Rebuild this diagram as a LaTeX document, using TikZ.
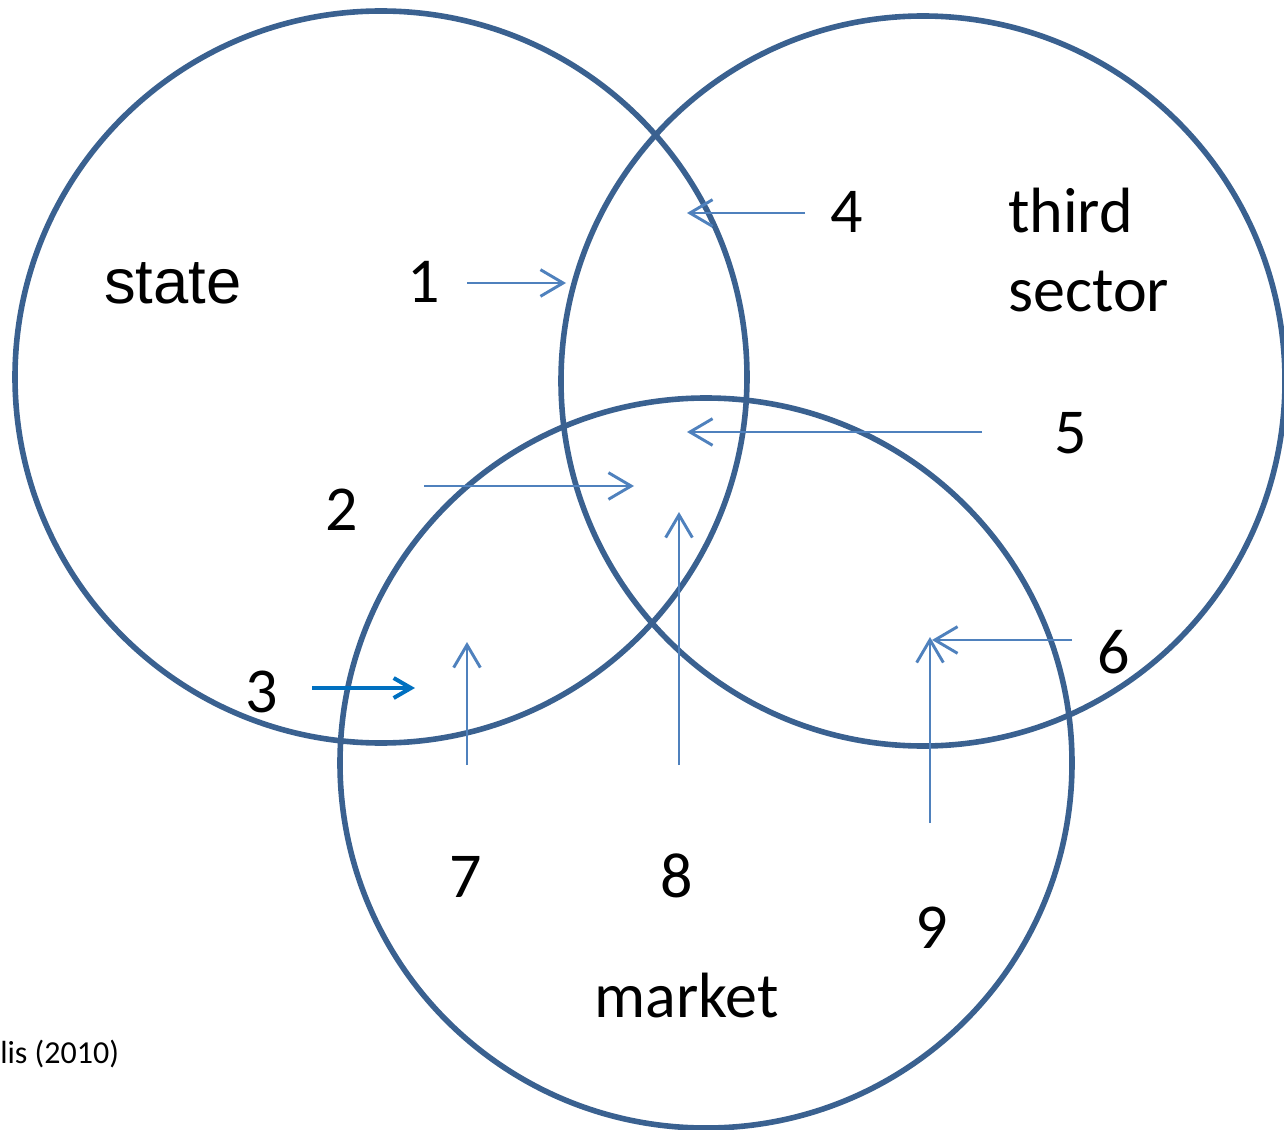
\documentclass[tikz,border=0pt]{standalone}
\usepackage{fontspec}
\setmainfont{Carlito}
\newfontfamily\arialish{Liberation Sans}
\usetikzlibrary{arrows.meta}
\definecolor{ringblue}{HTML}{3A6190}
\definecolor{arrblue}{HTML}{4F81BD}
\definecolor{darkarr}{HTML}{0070C0}
\begin{document}
\begin{tikzpicture}[x=0.75pt,y=-0.75pt,
  ring/.style={draw=ringblue,line width=4.2pt},
  flow/.style={draw=arrblue,line width=2.2pt,-{Straight Barb[length=17pt,width=20pt]}},
  flowdark/.style={draw=darkarr,line width=3pt,-{Straight Barb[length=13pt,width=15pt]}},
  lbl/.style={font=\fontsize{48}{56}\selectfont,inner sep=0pt,anchor=base west},
  num/.style={font=\fontsize{48}{56}\selectfont,inner sep=0pt,anchor=base}]
\useasboundingbox (0,0) rectangle (1284,1130);
\clip (0,0) rectangle (1284,1130);
% circles
\draw[ring] (381,377) ellipse [x radius=274.5pt, y radius=274.5pt];
\draw[ring] (923,381) ellipse [x radius=271.5pt, y radius=273.75pt];
\draw[ring] (706,763) ellipse [x radius=274.5pt, y radius=273.75pt];
% labels
\node[lbl,font=\arialish\fontsize{47.5}{56}\selectfont] (state) at (104,304) {state};
\node[lbl] (third) at (1008,233) {third};
\node[lbl] (sector) at (1008,312) {sector};
\node[lbl] (market) at (594,1017) {market};
\node[inner sep=0pt,anchor=base west,font=\fontsize{24}{28}\selectfont] (src) at (0,1063) {lis (2010)};
% numbers
\node[num] (n1) at (424,303) {1};
\node[num] (n2) at (342,530) {2};
\node[num] (n3) at (262,712) {3};
\node[num] (n4) at (847,233) {4};
\node[num] (n5) at (1071,453) {5};
\node[num] (n6) at (1114,673) {6};
\node[num] (n7) at (466,897) {7};
\node[num] (n8) at (677,897) {8};
\node[num] (n9) at (932,948) {9};
% arrow end points
\coordinate (a1s) at (467,283); \coordinate (a1e) at (566,283);
\coordinate (a2s) at (424,486); \coordinate (a2e) at (634,486);
\coordinate (a3s) at (312,688); \coordinate (a3e) at (415,688);
\coordinate (a4s) at (805,213); \coordinate (a4e) at (687,213);
\coordinate (a5s) at (982,432); \coordinate (a5e) at (687,432);
\coordinate (a6s) at (1072,640); \coordinate (a6e) at (932,640);
\coordinate (a7s) at (467,765); \coordinate (a7e) at (467,642);
\coordinate (a8s) at (679,765); \coordinate (a8e) at (679,512);
\coordinate (a9s) at (930,823); \coordinate (a9e) at (930,637);
% arrows
\draw[flow] (a1s) -- (a1e);
\draw[flow] (a2s) -- (a2e);
\draw[flowdark] (a3s) -- (a3e);
\draw[flow] (a4s) -- (a4e);
\draw[flow] (a5s) -- (a5e);
\draw[flow] (a6s) -- (a6e);
\draw[flow] (a7s) -- (a7e);
\draw[flow] (a8s) -- (a8e);
\draw[flow] (a9s) -- (a9e);
\end{tikzpicture}
\end{document}
